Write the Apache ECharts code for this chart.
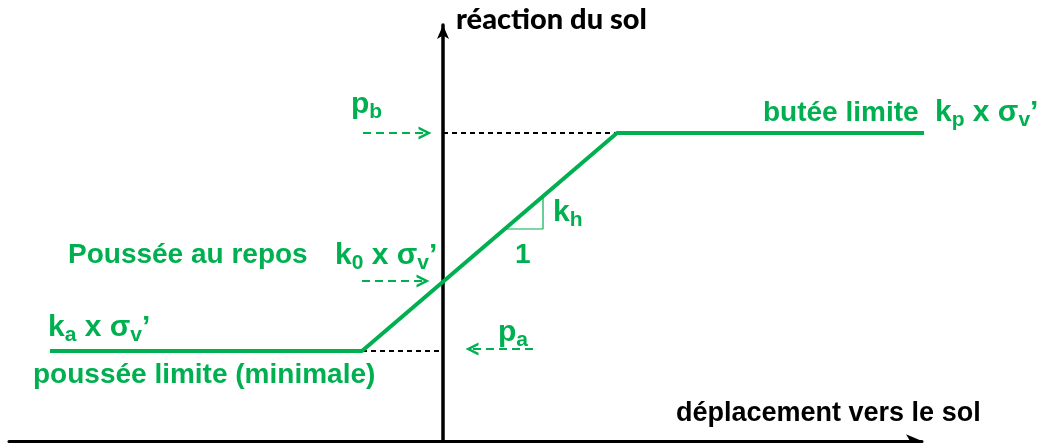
<!DOCTYPE html>
<html>
<head>
<meta charset="utf-8">
<script src="https://cdn.jsdelivr.net/npm/echarts@6/dist/echarts.min.js"></script>
<style>
  html, body { margin: 0; padding: 0; background: #fff; }
  #chart { width: 1045px; height: 443px; }
</style>
</head>
<body>
<div id="chart"></div>
<script>
// schematic values, 1 unit ~ 10 px
const curveX = [-39.3, -8.1, 17.4, 48.7]
const curveY = [9.0, 9.0, 30.8, 30.8]
const activeGuideX = [-8.1, 0]
const activeGuideY = [9.0, 9.0]
const passiveGuideX = [0, 17.4]
const passiveGuideY = [30.8, 30.8]
const slopeX = [6.2, 10.0, 10.0]
const slopeY = [21.2, 21.2, 24.5]
const pbArrow = [[-8.0, 30.8], [-1.8, 30.8]]
const k0Arrow = [[-8.1, 16.0], [-2.0, 16.0]]
const paArrow = [[9.0, 9.2], [2.9, 9.2]]

const GREEN = '#00b050'
const zip = (xs, ys) => xs.map((x, i) => [x, ys[i]])

const chart = echarts.init(document.getElementById('chart'))

const rich = {
  m: { fontSize: 28, fontWeight: 'bold', fontFamily: 'Liberation Sans', fill: GREEN, lineHeight: 34 },
  f: { fontSize: 30, fontWeight: 'bold', fontFamily: 'Liberation Sans', fill: GREEN, lineHeight: 36 },
  s: { fontSize: 21, fontWeight: 'bold', fontFamily: 'Liberation Sans', fill: GREEN, lineHeight: 11, verticalAlign: 'bottom' },
  s2: { fontSize: 21, fontWeight: 'bold', fontFamily: 'Liberation Sans', fill: GREEN, lineHeight: 22, verticalAlign: 'bottom' },
  r: { fontSize: 29, fontWeight: 900, fontFamily: 'Lato', fill: '#000', lineHeight: 34 },
  d: { fontSize: 27, fontWeight: 'bold', fontFamily: 'Liberation Sans', fill: '#000', lineHeight: 34 }
}
const txt = (x, y, text) => ({
  type: 'text', x: x, y: y, silent: true,
  style: { text: text, rich: rich, verticalAlign: 'top', align: 'left' }
})

const arrowHead = 'path://M0,12 L5,0 L10,12 L7.8,12 L5,5 L2.2,12 Z'
const arrowSeries = (coords) => ({
  type: 'lines',
  coordinateSystem: 'cartesian2d',
  symbol: ['none', arrowHead],
  symbolSize: [9, 13],
  lineStyle: { color: GREEN, width: 2, type: [8, 5], opacity: 1 },
  data: [{ coords: coords }],
  silent: true
})

const option = {
  animation: false,
  grid: { left: 9, right: 123, top: 25, bottom: 2 },
  xAxis: {
    type: 'value', min: -43.4, max: 47.9,
    axisLine: { show: true, onZero: true, symbol: ['none', 'arrow'], symbolSize: [10, 16],
      lineStyle: { color: '#000', width: 3 } },
    axisTick: { show: false }, axisLabel: { show: false }, splitLine: { show: false }
  },
  yAxis: {
    type: 'value', min: 0, max: 41.6,
    axisLine: { show: true, onZero: true, symbol: ['none', 'arrow'], symbolSize: [9, 14],
      lineStyle: { color: '#000', width: 3.5 } },
    axisTick: { show: false }, axisLabel: { show: false }, splitLine: { show: false }
  },
  series: [
    { type: 'line', data: zip(activeGuideX, activeGuideY), symbol: 'none', clip: false,
      lineStyle: { color: '#000', width: 2, type: [5, 4] } },
    { type: 'line', data: zip(passiveGuideX, passiveGuideY), symbol: 'none', clip: false,
      lineStyle: { color: '#000', width: 2, type: [5, 4] } },
    { type: 'line', data: zip(curveX, curveY), symbol: 'none', clip: false,
      lineStyle: { color: GREEN, width: 4 } },
    { type: 'line', data: zip(slopeX, slopeY), symbol: 'none', clip: false,
      lineStyle: { color: GREEN, width: 1.2 } },
    arrowSeries(pbArrow),
    arrowSeries(k0Arrow),
    arrowSeries(paArrow)
  ],
  graphic: [
    txt(456, 3, '{r|réaction du sol}'),
    txt(676, 397, '{d|déplacement vers le sol}'),
    txt(351, 87, '{f|p}{s|b}'),
    txt(763, 96, '{m|butée limite}'),
    txt(935, 95, '{f|k}{s|p}{f| x σ}{s|v}{f|’}'),
    txt(553, 195, '{f|k}{s|h}'),
    txt(515, 238, '{m|1}'),
    txt(68, 238, '{m|Poussée au repos}'),
    txt(335, 238, '{f|k}{s|0}{f| x σ}{s|v}{f|’}'),
    txt(498, 315, '{f|p}{s2|a}'),
    txt(48, 310, '{f|k}{s|a}{f| x σ}{s|v}{f|’}'),
    txt(33, 358, '{m|poussée limite (minimale)}')
  ]
}
chart.setOption(option)
</script>
</body>
</html>
